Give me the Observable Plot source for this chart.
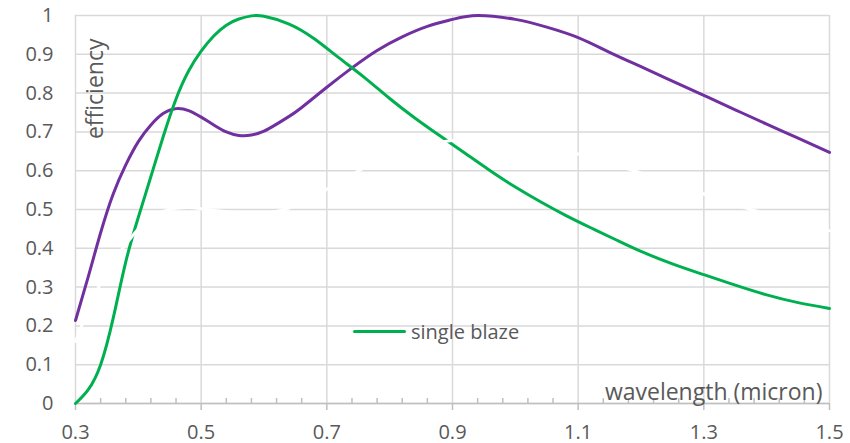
<!DOCTYPE html>
<html>
<head>
<meta charset="utf-8">
<script src="https://cdn.jsdelivr.net/npm/d3@7"></script>
<script src="https://cdn.jsdelivr.net/npm/@observablehq/plot@0.6"></script>
<style>
  html, body { margin: 0; padding: 0; background: #fff; }
  #wrap { position: relative; width: 850px; height: 443px; font-family: "Open Sans", sans-serif; }
  #legend { position: absolute; left: 353px; top: 318px; display: flex; align-items: center; color: #595959; font-size: 20px; }
  #legend .sw { width: 53px; height: 3px; background: #00b050; border-radius: 2px; margin-right: 5px; }
</style>
</head>
<body>
<div id="wrap">
  <div id="chart"></div>
  <div id="legend"><span class="sw"></span><span>single blaze</span></div>
</div>
<script>
// Data
const singleBlazeWavelength = [0.30,0.32,0.34,0.36,0.38,0.40,0.42,0.44,0.46,0.48,0.50,0.52,0.54,0.56,0.58,0.60,0.64,0.68,0.72,0.76,0.80,0.84,0.88,0.92,0.96,1.00,1.04,1.08,1.12,1.16,1.20,1.25,1.30,1.35,1.40,1.45,1.50];
const singleBlazeEfficiency = [0.00,0.035,0.10,0.22,0.365,0.48,0.585,0.69,0.785,0.857,0.908,0.947,0.975,0.991,0.999,0.998,0.978,0.94,0.89,0.84,0.786,0.736,0.69,0.645,0.60,0.558,0.52,0.485,0.453,0.422,0.392,0.36,0.332,0.305,0.28,0.26,0.245];

const dualBlazeWavelength = [0.30,0.32,0.34,0.36,0.38,0.40,0.42,0.44,0.46,0.48,0.50,0.52,0.54,0.56,0.58,0.60,0.62,0.64,0.66,0.70,0.74,0.78,0.82,0.86,0.90,0.94,1.00,1.05,1.10,1.15,1.20,1.25,1.30,1.35,1.40,1.45,1.50];
const dualBlazeEfficiency = [0.214,0.325,0.44,0.54,0.615,0.675,0.718,0.748,0.76,0.755,0.738,0.718,0.70,0.691,0.692,0.702,0.72,0.74,0.763,0.815,0.865,0.91,0.945,0.972,0.99,1.0,0.99,0.97,0.943,0.905,0.868,0.831,0.794,0.757,0.72,0.684,0.647];

const hiddenWavelength = [0.30,0.32,0.34,0.36,0.38,0.40,0.42,0.44,0.46,0.48,0.50,0.54,0.58,0.62,0.66,0.70,0.74,0.78,0.82,0.86,0.90,0.95,1.00,1.05,1.10,1.15,1.20,1.25,1.30,1.35,1.40,1.45,1.50];
const hiddenEfficiency = [0.16,0.24,0.31,0.365,0.41,0.45,0.478,0.495,0.503,0.505,0.502,0.494,0.49,0.495,0.517,0.552,0.59,0.624,0.65,0.668,0.678,0.682,0.677,0.663,0.643,0.62,0.594,0.567,0.54,0.513,0.488,0.466,0.445];

const xTicks = [0.3,0.5,0.7,0.9,1.1,1.3,1.5];
const yTicks = [0,0.1,0.2,0.3,0.4,0.5,0.6,0.7,0.8,0.9,1];
const xMinorTicks = d3.range(0, 31).map(i => +(0.3 + i * 0.04).toFixed(2)).filter(v => !xTicks.includes(v));

const toRows = (xs, ys) => xs.map((x, i) => ({x, y: ys[i]}));
const single = toRows(singleBlazeWavelength, singleBlazeEfficiency);
const dual = toRows(dualBlazeWavelength, dualBlazeEfficiency);
const hidden = toRows(hiddenWavelength, hiddenEfficiency);

const fmt = d3.format("~g");

const chart = Plot.plot({
  width: 850,
  height: 443,
  marginLeft: 75,
  marginRight: 21,
  marginTop: 15,
  marginBottom: 40,
  style: {fontFamily: "'Open Sans', sans-serif", fontSize: "20px", color: "#595959", background: "#fff"},
  x: {domain: [0.3, 1.5]},
  y: {domain: [0, 1]},
  marks: [
    Plot.gridY(yTicks, {stroke: "#d9d9d9", strokeOpacity: 1, strokeWidth: 1.5}),
    Plot.gridX(xTicks, {stroke: "#d9d9d9", strokeOpacity: 1, strokeWidth: 1.5}),
    Plot.ruleY([0], {stroke: "#bfbfbf", strokeWidth: 1.5}),
    Plot.axisY({ticks: yTicks, tickSize: 0, tickPadding: 22, tickFormat: fmt, label: null, fill: "#595959"}),
    Plot.axisX({ticks: xTicks, tickSize: 7, tickPadding: 14, tickFormat: fmt, label: null, stroke: "#bfbfbf", strokeWidth: 1.5, fill: "#595959"}),
    Plot.axisX({ticks: xMinorTicks, tickSize: 5, dy: -5, text: null, label: null, stroke: "#bfbfbf", strokeWidth: 1.5}),
    Plot.line(dual, {x: "x", y: "y", stroke: "#7030a0", strokeWidth: 3, curve: "natural"}),
    Plot.line(single, {x: "x", y: "y", stroke: "#00b050", strokeWidth: 3, curve: "natural"}),
    Plot.line(hidden, {x: "x", y: "y", stroke: "#ffffff", strokeWidth: 3, curve: "natural"}),
    Plot.text(["efficiency"], {frameAnchor: "top-left", rotate: -90, dx: 11, dy: 23, textAnchor: "end", lineAnchor: "top", fill: "#595959", fontSize: 23}),
    Plot.text(["wavelength (micron)"], {frameAnchor: "bottom-right", dx: -7, dy: -4, textAnchor: "end", lineAnchor: "bottom", fill: "#595959", fontSize: 23})
  ]
});
document.getElementById("chart").appendChild(chart);
</script>
</body>
</html>
